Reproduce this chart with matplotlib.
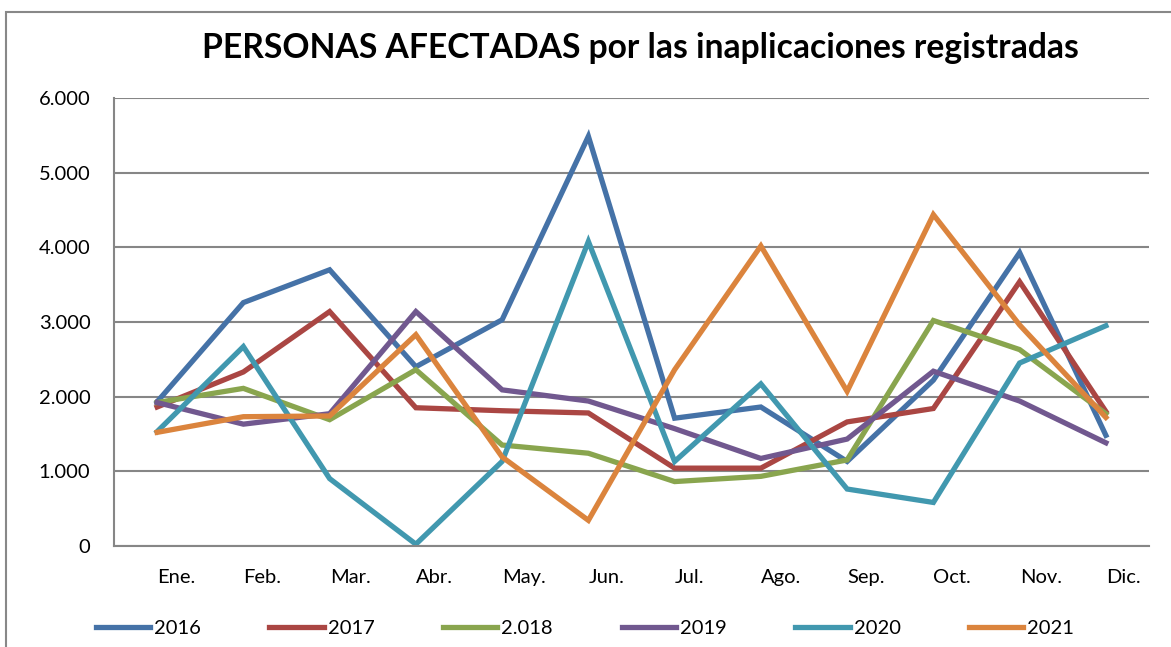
import matplotlib.pyplot as plt
from matplotlib.patches import Rectangle
from matplotlib.ticker import FuncFormatter

plt.rcParams['font.family'] = ['Lato', 'DejaVu Sans']

# data
meses = ['Ene.', 'Feb.', 'Mar.', 'Abr.', 'May.', 'Jun.',
         'Jul.', 'Ago.', 'Sep.', 'Oct.', 'Nov.', 'Dic.']
s2016 = [1930, 3260, 3700, 2400, 3030, 5490, 1710, 1860, 1130, 2220, 3930, 1480]
s2017 = [1860, 2330, 3140, 1850, 1810, 1780, 1040, 1040, 1660, 1840, 3540, 1800]
s2018 = [1920, 2110, 1690, 2360, 1350, 1240, 860, 930, 1150, 3020, 2630, 1770]
s2019 = [1920, 1630, 1770, 3140, 2090, 1940, 1570, 1170, 1430, 2340, 1940, 1380]
s2020 = [1530, 2670, 900, 20, 1130, 4080, 1130, 2170, 760, 580, 2450, 2950]
s2021 = [1520, 1730, 1740, 2830, 1190, 340, 2360, 4020, 2070, 4440, 2960, 1720]
series = ['2016', '2017', '2.018', '2019', '2020', '2021']
colores = ['#4572A7', '#AA4643', '#89A54E', '#71588F', '#4198AF', '#DB843D']

fig = plt.figure(figsize=(11.71, 6.47), dpi=100)
# marco exterior del grafico (cortado a la derecha y abajo)
fig.patches.append(Rectangle((6 / 1171, -0.1), 1.2, 0.1 + (647 - 12) / 647,
                             transform=fig.transFigure, fill=False,
                             edgecolor='#888888', lw=1.5))

ax = fig.add_axes([114 / 1171, 101.3 / 647, 1035 / 1171, 447.4 / 647])
x = list(range(len(meses)))
for name, vals, col in zip(series, [s2016, s2017, s2018, s2019, s2020, s2021], colores):
    ax.plot(x, vals, color=col, lw=3.8, label=name, solid_joinstyle='miter')

ax.set_xlim(-0.5, 11.5)
ax.set_ylim(0, 6000)
ax.set_yticks(range(0, 6001, 1000))
ax.yaxis.set_major_formatter(FuncFormatter(lambda v, p: f'{int(v):,}'.replace(',', '.')))
ax.set_xticks(x)
ax.set_xticklabels(meses, ha='left')
ax.tick_params(axis='x', length=0, pad=17, labelsize=14.5)
ax.tick_params(axis='y', length=0, pad=17, labelsize=14.5)
ax.grid(axis='y', color='#868686', lw=1.5)
ax.set_axisbelow(True)
for s in ['top', 'right']:
    ax.spines[s].set_visible(False)
for s in ['left', 'bottom']:
    ax.spines[s].set_color('#868686')
    ax.spines[s].set_linewidth(1.5)

fig.text(640 / 1171, (647 - 48) / 647, 'PERSONAS AFECTADAS por las inaplicaciones registradas',
         ha='center', va='center', fontsize=24.2, fontweight='bold')

fig.legend(loc='center', bbox_to_anchor=(585 / 1171, (647 - 628) / 647), ncol=6,
           frameon=False, fontsize=14.5, handlelength=2.7, handletextpad=0.2,
           columnspacing=3.4)

fig.savefig('out.png', dpi=100)
